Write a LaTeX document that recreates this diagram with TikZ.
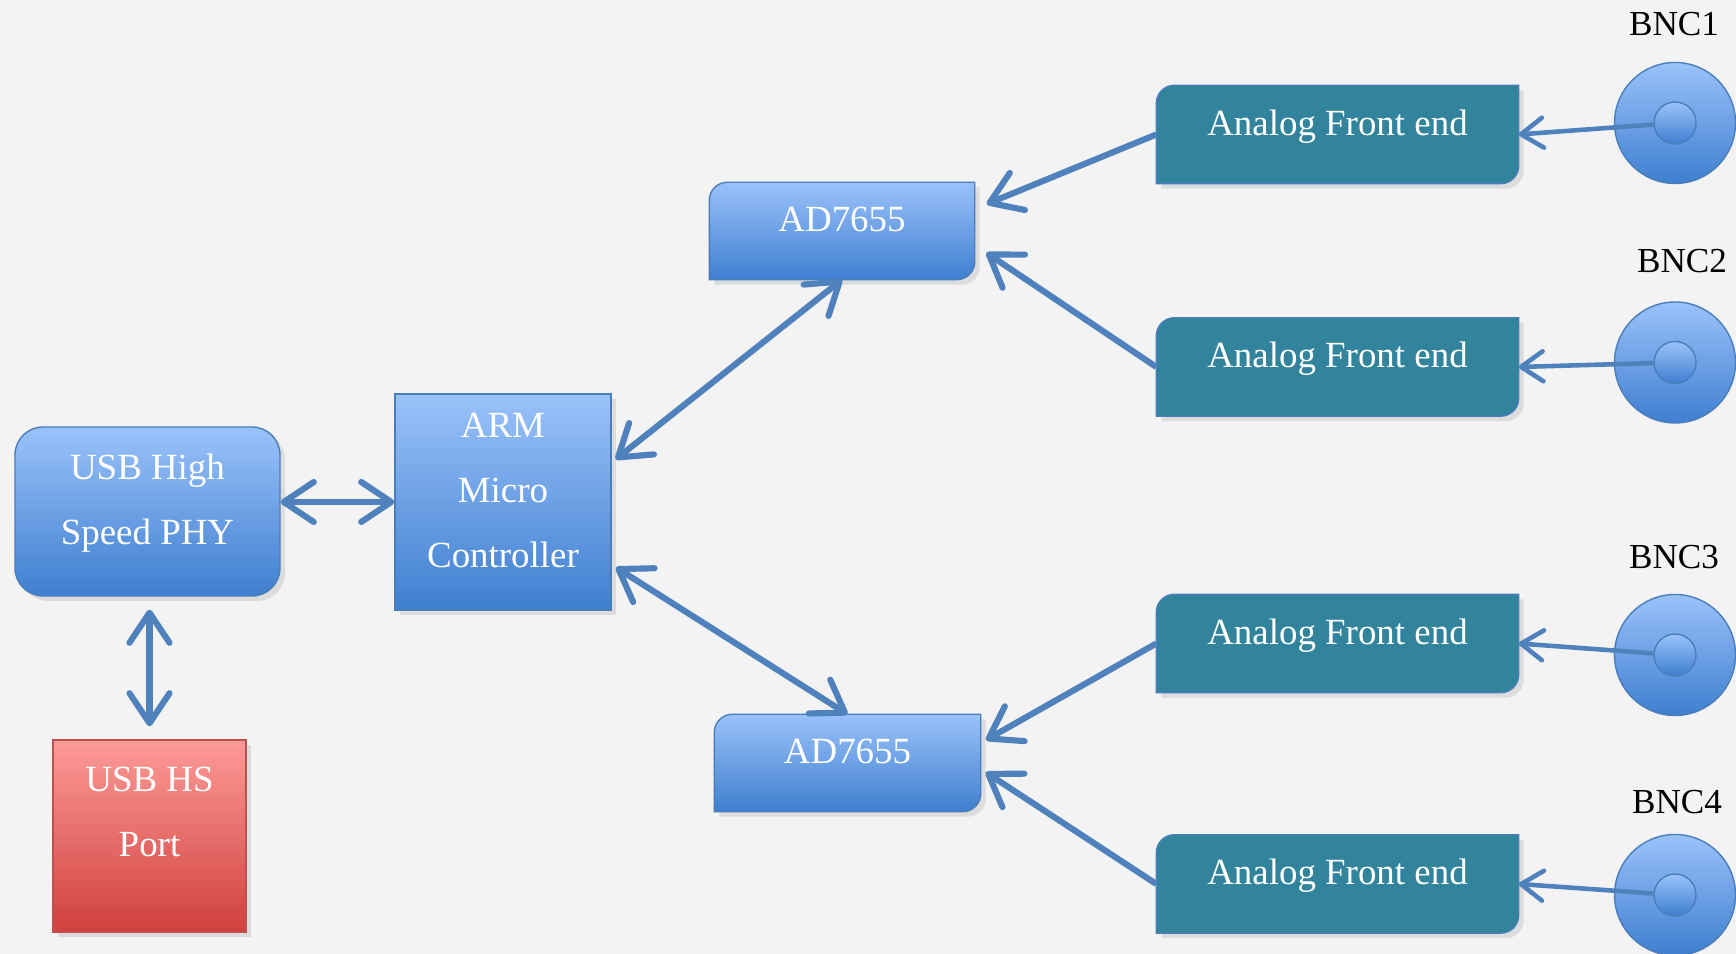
\documentclass[tikz,border=0pt]{standalone}
\usepackage{fontspec}
\setmainfont{Liberation Serif}
\usetikzlibrary{arrows.meta,shadows,backgrounds}

\definecolor{paper}{HTML}{F3F3F3}
\definecolor{bluetop}{HTML}{9AC2FA}
\definecolor{bluebot}{HTML}{3F7FD0}
\definecolor{blueline}{HTML}{4A7EBB}
\definecolor{afeteal}{HTML}{31849B}
\definecolor{redtop}{HTML}{FD9B97}
\definecolor{redbot}{HTML}{D0403E}
\definecolor{redline}{HTML}{C0504D}
\definecolor{arrowblue}{HTML}{4F81BD}

% box with round top-left and bottom-right corners, drawn round a named node
\newcommand{\cornerpath}[2]{%
  \path[#2] (#1.south west) -- ([yshift=-1.8mm]#1.north west)
    arc[start angle=180, end angle=90, radius=1.8mm] -- (#1.north east)
    -- ([yshift=1.8mm]#1.south east)
    arc[start angle=0, end angle=-90, radius=1.8mm] -- cycle;}

\begin{document}
\begin{tikzpicture}[
  >={Straight Barb[length=3mm,width=4mm,round]},
  link/.style={draw=arrowblue, line width=1.75pt},
  bnclink/.style={draw=arrowblue, line width=1.3pt, >={Straight Barb[length=2.2mm,width=3mm,round]}},
  boxshadow/.style={drop shadow={opacity=0.2, shadow xshift=0.5mm, shadow yshift=-0.5mm}},
  boxtext/.style={text=white, align=center, inner sep=0pt, font=\fontsize{10.5}{18.5}\selectfont},
  bluebox/.style={boxtext, rectangle, draw=blueline, top color=bluetop, bottom color=bluebot, text depth=6.8pt, boxshadow},
  redbox/.style={boxtext, rectangle, draw=redline, top color=redtop, bottom color=redbot, text depth=13.6pt, boxshadow},
  snipbox/.style={boxtext, rectangle, minimum height=0.96cm, text depth=6.8pt},
  adcshape/.style={draw=blueline, top color=bluetop, bottom color=bluebot, boxshadow},
  afeshape/.style={draw=blueline, fill=afeteal, boxshadow},
  bnc/.style={circle, draw=blueline, top color=bluetop, bottom color=bluebot, inner sep=0pt},
  bnclabel/.style={font=\fontsize{10}{12}\selectfont, text=black, inner sep=0pt}
]
  \useasboundingbox (0,0) rectangle (17.36,9.54);

  \node[bluebox, rounded corners=0.28cm, minimum width=2.65cm, minimum height=1.69cm] (phy) at (1.475, 4.425) {USB High\\Speed PHY};
  \node[redbox, minimum width=1.93cm, minimum height=1.92cm] (port) at (1.495, 1.18) {USB HS\\Port};
  \node[bluebox, minimum width=2.16cm, minimum height=2.16cm] (arm) at (5.03, 4.52) {ARM\\Micro\\Controller};

  \node[snipbox, minimum width=2.64cm] (adc1) at (8.42, 7.23) {AD7655};
  \node[snipbox, minimum width=2.65cm] (adc2) at (8.475, 1.91) {AD7655};

  \node[snipbox, minimum width=3.61cm, minimum height=0.97cm] (afe1) at (13.375, 8.195) {Analog Front end};
  \node[snipbox, minimum width=3.61cm, minimum height=0.97cm] (afe2) at (13.375, 5.87) {Analog Front end};
  \node[snipbox, minimum width=3.61cm, minimum height=0.97cm] (afe3) at (13.375, 3.105) {Analog Front end};
  \node[snipbox, minimum width=3.61cm, minimum height=0.97cm] (afe4) at (13.375, 0.70) {Analog Front end};

  \node[bnc, minimum size=1.21cm] (bnc1) at (16.75, 8.31) {};
  \node[bnc, minimum size=1.21cm] (bnc2) at (16.75, 5.915) {};
  \node[bnc, minimum size=1.21cm] (bnc3) at (16.75, 2.99) {};
  \node[bnc, minimum size=1.21cm] (bnc4) at (16.75, 0.59) {};
  \node[bnc, minimum size=0.42cm] (bnc1in) at (bnc1) {};
  \node[bnc, minimum size=0.42cm] (bnc2in) at (bnc2) {};
  \node[bnc, minimum size=0.42cm] (bnc3in) at (bnc3) {};
  \node[bnc, minimum size=0.42cm] (bnc4in) at (bnc4) {};

  \node[bnclabel] (bnc1lbl) at (16.74, 9.30) {BNC1};
  \node[bnclabel] (bnc2lbl) at (16.82, 6.93) {BNC2};
  \node[bnclabel] (bnc3lbl) at (16.74, 3.97) {BNC3};
  \node[bnclabel] (bnc4lbl) at (16.77, 1.52) {BNC4};

  \begin{pgfonlayer}{background}
    \fill[paper] (0,0) rectangle (17.36,9.54);
    \cornerpath{adc1}{adcshape}
    \cornerpath{adc2}{adcshape}
    \cornerpath{afe1}{afeshape}
    \cornerpath{afe2}{afeshape}
    \cornerpath{afe3}{afeshape}
    \cornerpath{afe4}{afeshape}
  \end{pgfonlayer}

  \draw[link, <->] (arm.west -| phy.east) -- (arm.west);
  \draw[link, <->, shorten <=1.3mm, shorten >=1.3mm] (phy.south -| port.north) -- (port.north);
  \draw[link, <->, shorten <=0.5mm] (arm.20) -- (adc1.south);
  \draw[link, <->, shorten <=0.5mm] (arm.-30) -- (adc2.north);
  \draw[link, ->, shorten >=1.3mm] (afe1.west) -- ([yshift=2.2mm]adc1.east);
  \draw[link, ->, shorten >=1.4mm] (afe2.west) -- ([yshift=-1.4mm]adc1.east);
  \draw[link, ->, shorten >=0.6mm] (afe3.west) -- ([yshift=2mm]adc2.east);
  \draw[link, ->, shorten >=0.6mm] (afe4.west) -- ([yshift=-0.6mm]adc2.east);
  \draw[bnclink, ->] (bnc1in) -- (afe1.east);
  \draw[bnclink, ->] (bnc2in) -- (afe2.east);
  \draw[bnclink, ->] (bnc3in) -- (afe3.east);
  \draw[bnclink, ->] (bnc4in) -- (afe4.east);
\end{tikzpicture}
\end{document}
